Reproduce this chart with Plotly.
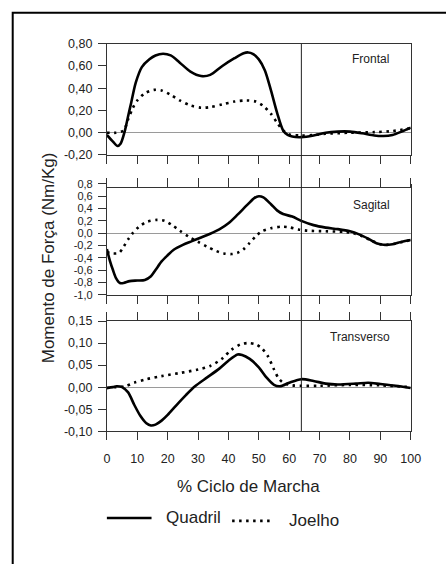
import plotly.graph_objects as go

# ---------------- data ----------------
fr_hip_x = [0, 2, 3.5, 4.5, 5.75, 7, 8, 9.5, 11.5, 14, 16, 18.5, 21, 24, 27.5, 31, 34, 38, 42, 45, 46.5, 48, 50, 52, 54, 56, 58, 59.5, 61, 64, 68, 72, 76, 80, 84, 88, 91, 94, 97, 100]
fr_hip_y = [-0.02, -0.08, -0.12, -0.10, 0.0, 0.15, 0.27, 0.45, 0.59, 0.66, 0.695, 0.71, 0.695, 0.63, 0.55, 0.51, 0.52, 0.60, 0.67, 0.715, 0.722, 0.71, 0.66, 0.56, 0.38, 0.18, 0.02, -0.02, -0.035, -0.04, -0.025, 0.0, 0.01, 0.01, -0.005, -0.025, -0.03, -0.02, 0.01, 0.045]
fr_knee_x = [0, 3, 5.5, 7, 8.5, 10, 12.5, 15.5, 18, 21, 24, 27.5, 31, 34, 38, 42, 46, 49, 51.5, 54, 56, 58, 60, 64, 68, 72, 80, 88, 94, 100]
fr_knee_y = [0.0, 0.0, 0.02, 0.12, 0.22, 0.29, 0.355, 0.385, 0.38, 0.34, 0.29, 0.245, 0.225, 0.23, 0.255, 0.28, 0.29, 0.28, 0.24, 0.17, 0.09, 0.02, -0.015, -0.025, -0.02, -0.01, 0.0, 0.005, 0.015, 0.04]

sg_hip_x = [0, 1, 2, 3, 4.3, 5.5, 7.5, 10, 12.5, 14.5, 16, 18, 20, 22, 25, 28, 31, 34, 37, 40, 43, 46, 48.5, 50, 51.5, 54, 56, 58, 61, 64, 68, 72, 76, 80, 83, 86, 89, 91, 94, 97, 100]
sg_hip_y = [-0.26, -0.45, -0.60, -0.73, -0.81, -0.81, -0.78, -0.77, -0.76, -0.70, -0.60, -0.46, -0.36, -0.27, -0.19, -0.13, -0.07, -0.01, 0.06, 0.16, 0.30, 0.45, 0.57, 0.60, 0.58, 0.47, 0.37, 0.31, 0.27, 0.20, 0.13, 0.09, 0.065, 0.03, -0.02, -0.09, -0.17, -0.19, -0.18, -0.14, -0.11]
sg_knee_x = [0, 2, 4, 5.5, 7, 8.5, 10.5, 13, 16.5, 19, 21.5, 24, 27, 30, 33, 36, 38.5, 41, 43, 45, 47, 49, 51, 54, 57.5, 60, 63, 66, 72, 78, 81, 84, 87, 90, 92, 95, 100]
sg_knee_y = [-0.31, -0.33, -0.32, -0.22, -0.10, 0.0, 0.10, 0.18, 0.215, 0.20, 0.13, 0.04, -0.06, -0.14, -0.22, -0.29, -0.33, -0.34, -0.32, -0.26, -0.16, -0.05, 0.03, 0.08, 0.105, 0.095, 0.06, 0.04, 0.03, 0.02, 0.0, -0.05, -0.12, -0.18, -0.19, -0.17, -0.11]

tr_hip_x = [0, 2, 3.2, 5, 7, 9, 11, 13, 14.5, 16, 18, 20, 23, 26, 29, 33, 37, 40, 43, 44.5, 47, 50, 52.5, 55, 57, 60, 64, 68, 72, 76, 82, 86, 90, 95, 100]
tr_hip_y = [-0.002, 0.0, 0.002, 0.0, -0.012, -0.04, -0.065, -0.082, -0.087, -0.085, -0.076, -0.063, -0.04, -0.018, 0.002, 0.022, 0.042, 0.06, 0.074, 0.073, 0.064, 0.045, 0.022, 0.005, 0.002, 0.01, 0.018, 0.014, 0.008, 0.006, 0.008, 0.01, 0.007, 0.003, -0.002]
tr_knee_x = [0, 3, 6, 9, 13, 18, 24, 30, 34, 38, 41, 44, 46.5, 49, 51, 53, 55, 56.5, 58, 61, 64, 70, 80, 90, 100]
tr_knee_y = [-0.002, 0.0, 0.002, 0.01, 0.018, 0.025, 0.032, 0.04, 0.048, 0.065, 0.085, 0.097, 0.10, 0.097, 0.088, 0.07, 0.04, 0.02, 0.01, 0.004, 0.003, 0.003, 0.005, 0.004, 0.0]

x_ticks = [0, 10, 20, 30, 40, 50, 60, 70, 80, 90, 100]
fr_ticks = [-0.2, 0.0, 0.2, 0.4, 0.6, 0.8]
fr_labels = ["-0,20", "0,00", "0,20", "0,40", "0,60", "0,80"]
sg_ticks = [-1.0, -0.8, -0.6, -0.4, -0.2, 0.0, 0.2, 0.4, 0.6, 0.8]
sg_labels = ["-1,0", "-0,8", "-0,6", "-0,4", "-0,2", "0,0", "0,2", "0,4", "0,6", "0,8"]
tr_ticks = [-0.10, -0.05, 0.0, 0.05, 0.10, 0.15]
tr_labels = ["-0,10", "-0,05", "0,00", "0,05", "0,10", "0,15"]
panel_names = ["Frontal", "Sagital", "Transverso"]
series_names = ["Quadril", "Joelho"]
toe_off = 64

# ---------------- layout helpers ----------------
W, H = 446, 564
FONT = "Liberation Sans, Arial, sans-serif"
INK = "#222222"
px = lambda v: v / W
py = lambda v: 1 - v / H

XDOM = [px(107), px(420)]
DOM1 = [py(151.7), py(37.7)]
DOM2 = [py(295), py(181.4)]
DOM3 = [py(435), py(322)]

solid = dict(color="black", width=2.6)
dotted = dict(color="black", width=2.6, dash="2.5px,4.5px")

fig = go.Figure()
for xa, ya, hx, hy, kx, ky in [
    ("x", "y", fr_hip_x, fr_hip_y, fr_knee_x, fr_knee_y),
    ("x2", "y2", sg_hip_x, sg_hip_y, sg_knee_x, sg_knee_y),
    ("x3", "y3", tr_hip_x, tr_hip_y, tr_knee_x, tr_knee_y),
]:
    fig.add_trace(go.Scatter(x=kx, y=ky, xaxis=xa, yaxis=ya, mode="lines",
                             line=dict(dotted, shape="spline", smoothing=0.8),
                             name=series_names[1], showlegend=False))
    fig.add_trace(go.Scatter(x=hx, y=hy, xaxis=xa, yaxis=ya, mode="lines",
                             line=dict(solid, shape="spline", smoothing=0.8),
                             name=series_names[0], showlegend=False))
# helper trace for the top tick axis of the middle panel
fig.add_trace(go.Scatter(x=[None], y=[None], xaxis="x4", yaxis="y2", showlegend=False,
                         hoverinfo="skip"))

common_x = dict(range=[0, 100], domain=XDOM, tickvals=x_ticks, showgrid=False, zeroline=False,
                showline=True, linecolor="#333", linewidth=1, ticks="outside", ticklen=8,
                tickcolor="#333", tickwidth=1, tickfont=dict(family=FONT, size=12.5, color=INK))
common_y = dict(showgrid=False, zeroline=True, zerolinecolor="#9a9a9a", zerolinewidth=1,
                showline=True, linecolor="#333", linewidth=1, ticks="outside", ticklen=8,
                tickcolor="#333", tickwidth=1, tickfont=dict(family=FONT, size=12.5, color=INK),
                ticklabelstandoff=3)

fig.update_layout(
    width=W, height=H, margin=dict(l=0, r=0, t=0, b=0),
    paper_bgcolor="white", plot_bgcolor="white", showlegend=False,
    font=dict(family=FONT, color=INK),
    xaxis=dict(common_x, anchor="y", mirror=True, showticklabels=False),
    yaxis=dict(common_y, anchor="x", domain=DOM1, range=[-0.2, 0.8], mirror=True,
               tickvals=fr_ticks, ticktext=fr_labels),
    xaxis2=dict(common_x, anchor="y2", showticklabels=False),
    yaxis2=dict(common_y, anchor="x2", domain=DOM2, range=[-1.0, 0.8], mirror=True,
                tickvals=sg_ticks, ticktext=sg_labels, tickfont=dict(family=FONT, size=11, color=INK)),
    xaxis4=dict(common_x, overlaying="x2", anchor="free", position=py(185), side="top",
                showticklabels=False, ticklen=9),
    xaxis3=dict(common_x, anchor="y3", mirror="ticks", ticklabelstandoff=8),
    yaxis3=dict(common_y, anchor="x3", domain=DOM3, range=[-0.10, 0.15], mirror=True,
                tickvals=tr_ticks, ticktext=tr_labels),
)

shapes = [
    # outer frame
    dict(type="rect", xref="paper", yref="paper", x0=px(10), x1=1.2, y0=-0.2, y1=py(6),
         line=dict(color="black", width=2), layer="below"),
    # vertical toe-off line across all panels
    dict(type="line", xref="x", yref="paper", x0=toe_off, x1=toe_off, y0=DOM3[0], y1=DOM1[1],
         line=dict(color="#222", width=1)),
    # legend samples
    dict(type="line", xref="paper", yref="paper", x0=px(107), x1=px(153), y0=py(524), y1=py(524),
         line=dict(color="black", width=2.6)),
    dict(type="line", xref="paper", yref="paper", x0=px(236), x1=px(278), y0=py(527), y1=py(527),
         line=dict(color="black", width=2.6, dash="2.5px,4.5px")),
]
fig.update_layout(shapes=shapes)

ann = [
    dict(text=panel_names[0], x=px(379), y=py(53)),
    dict(text=panel_names[1], x=px(380), y=py(203)),
    dict(text=panel_names[2], x=px(367.5), y=py(338)),
]
annotations = [dict(a, xref="paper", yref="paper", showarrow=False, xanchor="center", yanchor="middle",
                    font=dict(family=FONT, size=12, color=INK)) for a in ann]
annotations += [
    dict(text="Momento de Força (Nm/Kg)", x=px(47), y=py(257), textangle=-90),
    dict(text="% Ciclo de Marcha", x=px(252.5), y=py(492)),
    dict(text=series_names[0], x=px(166), y=py(524), xanchor="left"),
    dict(text=series_names[1], x=px(293), y=py(527), xanchor="left"),
]
for a in annotations[3:]:
    a.update(xref="paper", yref="paper", showarrow=False,
             font=dict(family=FONT, size=17, color=INK))
    a.setdefault("xanchor", "center")
    a.setdefault("yanchor", "middle")
fig.update_layout(annotations=annotations)

fig.write_html("out.html")
